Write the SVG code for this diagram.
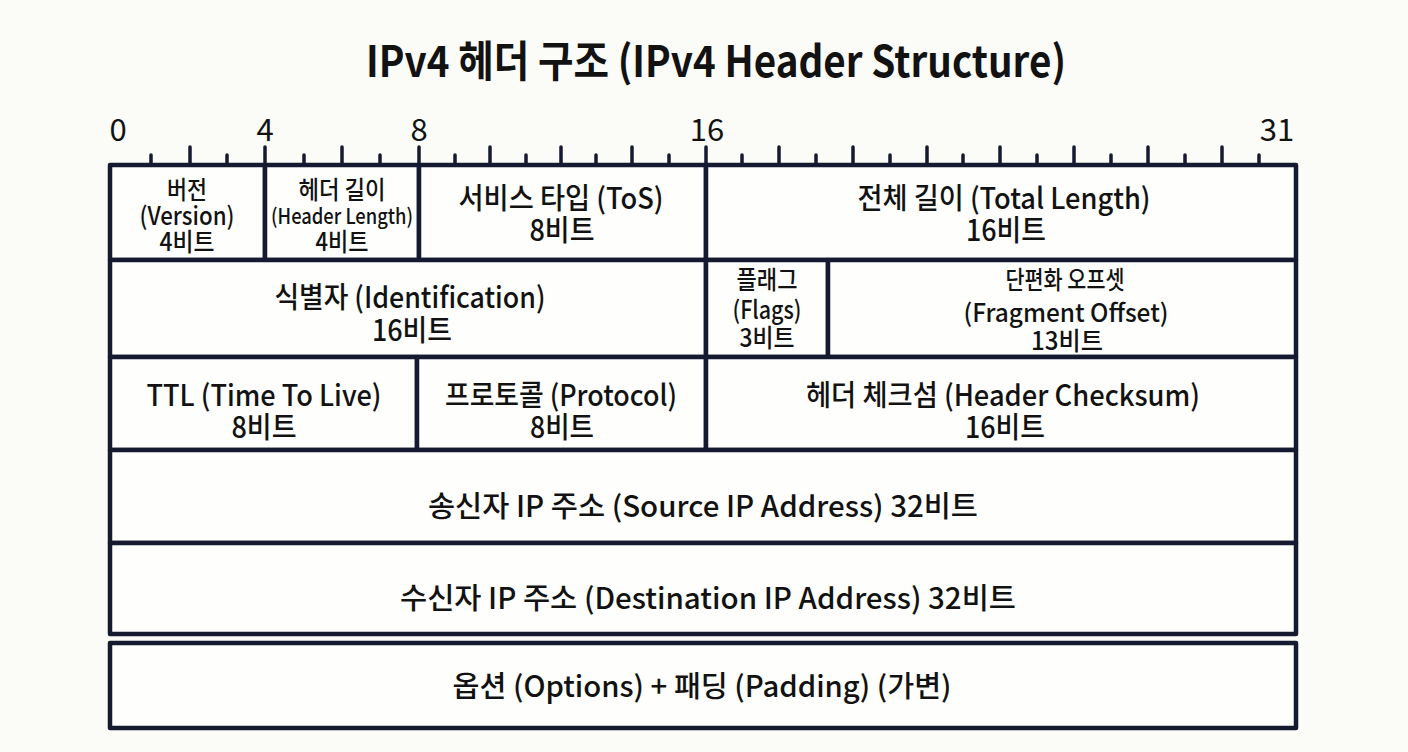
<svg xmlns="http://www.w3.org/2000/svg" width="1408" height="752" viewBox="0 0 1408 752">
<style>
.bg{fill:#fbfbf8}
.cell{fill:#fefefc;stroke:#151a30;stroke-width:4.5;stroke-linejoin:round}
.tick{stroke:#151a30;stroke-width:3.5;stroke-linecap:round}
text{font-family:"Noto Sans CJK KR","Noto Sans",sans-serif;fill:#121212;text-anchor:middle;font-weight:500}
.t{font-size:29px}
.s{font-size:25px}
.xs{font-size:21px}
.r{font-size:31px;font-weight:400}
.title{font-size:43px;font-weight:700}
</style>
<rect class="bg" x="0" y="0" width="1408" height="752"/>
<g id="title"><text class="title" x="716" y="77" textLength="700" lengthAdjust="spacingAndGlyphs">IPv4 헤더 구조 (IPv4 Header Structure)</text></g>
<g id="ruler">
<text class="r" x="118" y="141">0</text>
<text class="r" x="265" y="141">4</text>
<text class="r" x="419" y="141">8</text>
<text class="r" x="707" y="141">16</text>
<text class="r" x="1277" y="141">31</text>
<path class="tick" d="M151 155V165M190 147V165M227 155V165M265 147V165M304 155V165M342 147V165M380 155V165M419 147V165M455 155V165M490 147V165M526 155V165M561 147V165M596 155V165M632 147V165M669 155V165M706 147V165M742 155V165M779 147V165M816 155V165M853 147V165M890 155V165M927 147V165M963 155V165M1000 147V165M1037 155V165M1074 147V165M1111 155V165M1148 147V165M1185 155V165M1222 147V165M1259 155V165"/>
</g>
<g id="version"><rect class="cell" x="110" y="165" width="155" height="95"/>
<text class="s" x="187" y="199" textLength="40" lengthAdjust="spacingAndGlyphs">버전</text>
<text class="s" x="187" y="225" textLength="95" lengthAdjust="spacingAndGlyphs">(Version)</text>
<text class="s" x="187" y="251" textLength="55" lengthAdjust="spacingAndGlyphs">4비트</text></g>
<g id="header-length"><rect class="cell" x="265" y="165" width="154" height="95"/>
<text class="s" x="342" y="199" textLength="87" lengthAdjust="spacingAndGlyphs">헤더 길이</text>
<text class="xs" x="342" y="224" textLength="142" lengthAdjust="spacingAndGlyphs">(Header Length)</text>
<text class="s" x="342" y="251" textLength="53" lengthAdjust="spacingAndGlyphs">4비트</text></g>
<g id="tos"><rect class="cell" x="419" y="165" width="287" height="95"/>
<text class="t" x="561" y="209" textLength="205" lengthAdjust="spacingAndGlyphs">서비스 타입 (ToS)</text>
<text class="t" x="562" y="241" textLength="65" lengthAdjust="spacingAndGlyphs">8비트</text></g>
<g id="total-length"><rect class="cell" x="706" y="165" width="590" height="95"/>
<text class="t" x="1004" y="209" textLength="293" lengthAdjust="spacingAndGlyphs">전체 길이 (Total Length)</text>
<text class="t" x="1006" y="241" textLength="80" lengthAdjust="spacingAndGlyphs">16비트</text></g>
<g id="identification"><rect class="cell" x="110" y="260" width="596" height="97"/>
<text class="t" x="410" y="308" textLength="271" lengthAdjust="spacingAndGlyphs">식별자 (Identification)</text>
<text class="t" x="412" y="341" textLength="80" lengthAdjust="spacingAndGlyphs">16비트</text></g>
<g id="flags"><rect class="cell" x="706" y="260" width="122" height="97"/>
<text class="s" x="767" y="289" textLength="61" lengthAdjust="spacingAndGlyphs">플래그</text>
<text class="s" x="767" y="319" textLength="69" lengthAdjust="spacingAndGlyphs">(Flags)</text>
<text class="s" x="767" y="347" textLength="55" lengthAdjust="spacingAndGlyphs">3비트</text></g>
<g id="fragment-offset"><rect class="cell" x="828" y="260" width="468" height="97"/>
<text class="s" x="1065" y="289" textLength="119" lengthAdjust="spacingAndGlyphs">단편화 오프셋</text>
<text class="s" x="1066" y="322" textLength="205" lengthAdjust="spacingAndGlyphs">(Fragment Offset)</text>
<text class="s" x="1067" y="350" textLength="72" lengthAdjust="spacingAndGlyphs">13비트</text></g>
<g id="ttl"><rect class="cell" x="110" y="357" width="307" height="93"/>
<text class="t" x="264" y="406" textLength="235" lengthAdjust="spacingAndGlyphs">TTL (Time To Live)</text>
<text class="t" x="264" y="438" textLength="65" lengthAdjust="spacingAndGlyphs">8비트</text></g>
<g id="protocol"><rect class="cell" x="417" y="357" width="289" height="93"/>
<text class="t" x="561" y="406" textLength="232" lengthAdjust="spacingAndGlyphs">프로토콜 (Protocol)</text>
<text class="t" x="562" y="438" textLength="64" lengthAdjust="spacingAndGlyphs">8비트</text></g>
<g id="checksum"><rect class="cell" x="706" y="357" width="590" height="93"/>
<text class="t" x="1003" y="406" textLength="394" lengthAdjust="spacingAndGlyphs">헤더 체크섬 (Header Checksum)</text>
<text class="t" x="1005" y="438" textLength="80" lengthAdjust="spacingAndGlyphs">16비트</text></g>
<g id="source-ip"><rect class="cell" x="110" y="450" width="1186" height="93"/>
<text class="t" x="703" y="517" textLength="550" lengthAdjust="spacingAndGlyphs">송신자 IP 주소 (Source IP Address) 32비트</text></g>
<g id="destination-ip"><rect class="cell" x="110" y="543" width="1186" height="91"/>
<text class="t" x="708" y="609" textLength="616" lengthAdjust="spacingAndGlyphs">수신자 IP 주소 (Destination IP Address) 32비트</text></g>
<g id="options"><rect class="cell" x="110" y="643" width="1186" height="85"/>
<text class="t" x="702" y="697" textLength="499" lengthAdjust="spacingAndGlyphs">옵션 (Options) + 패딩 (Padding) (가변)</text></g>
<g id="connectors"></g>
</svg>
